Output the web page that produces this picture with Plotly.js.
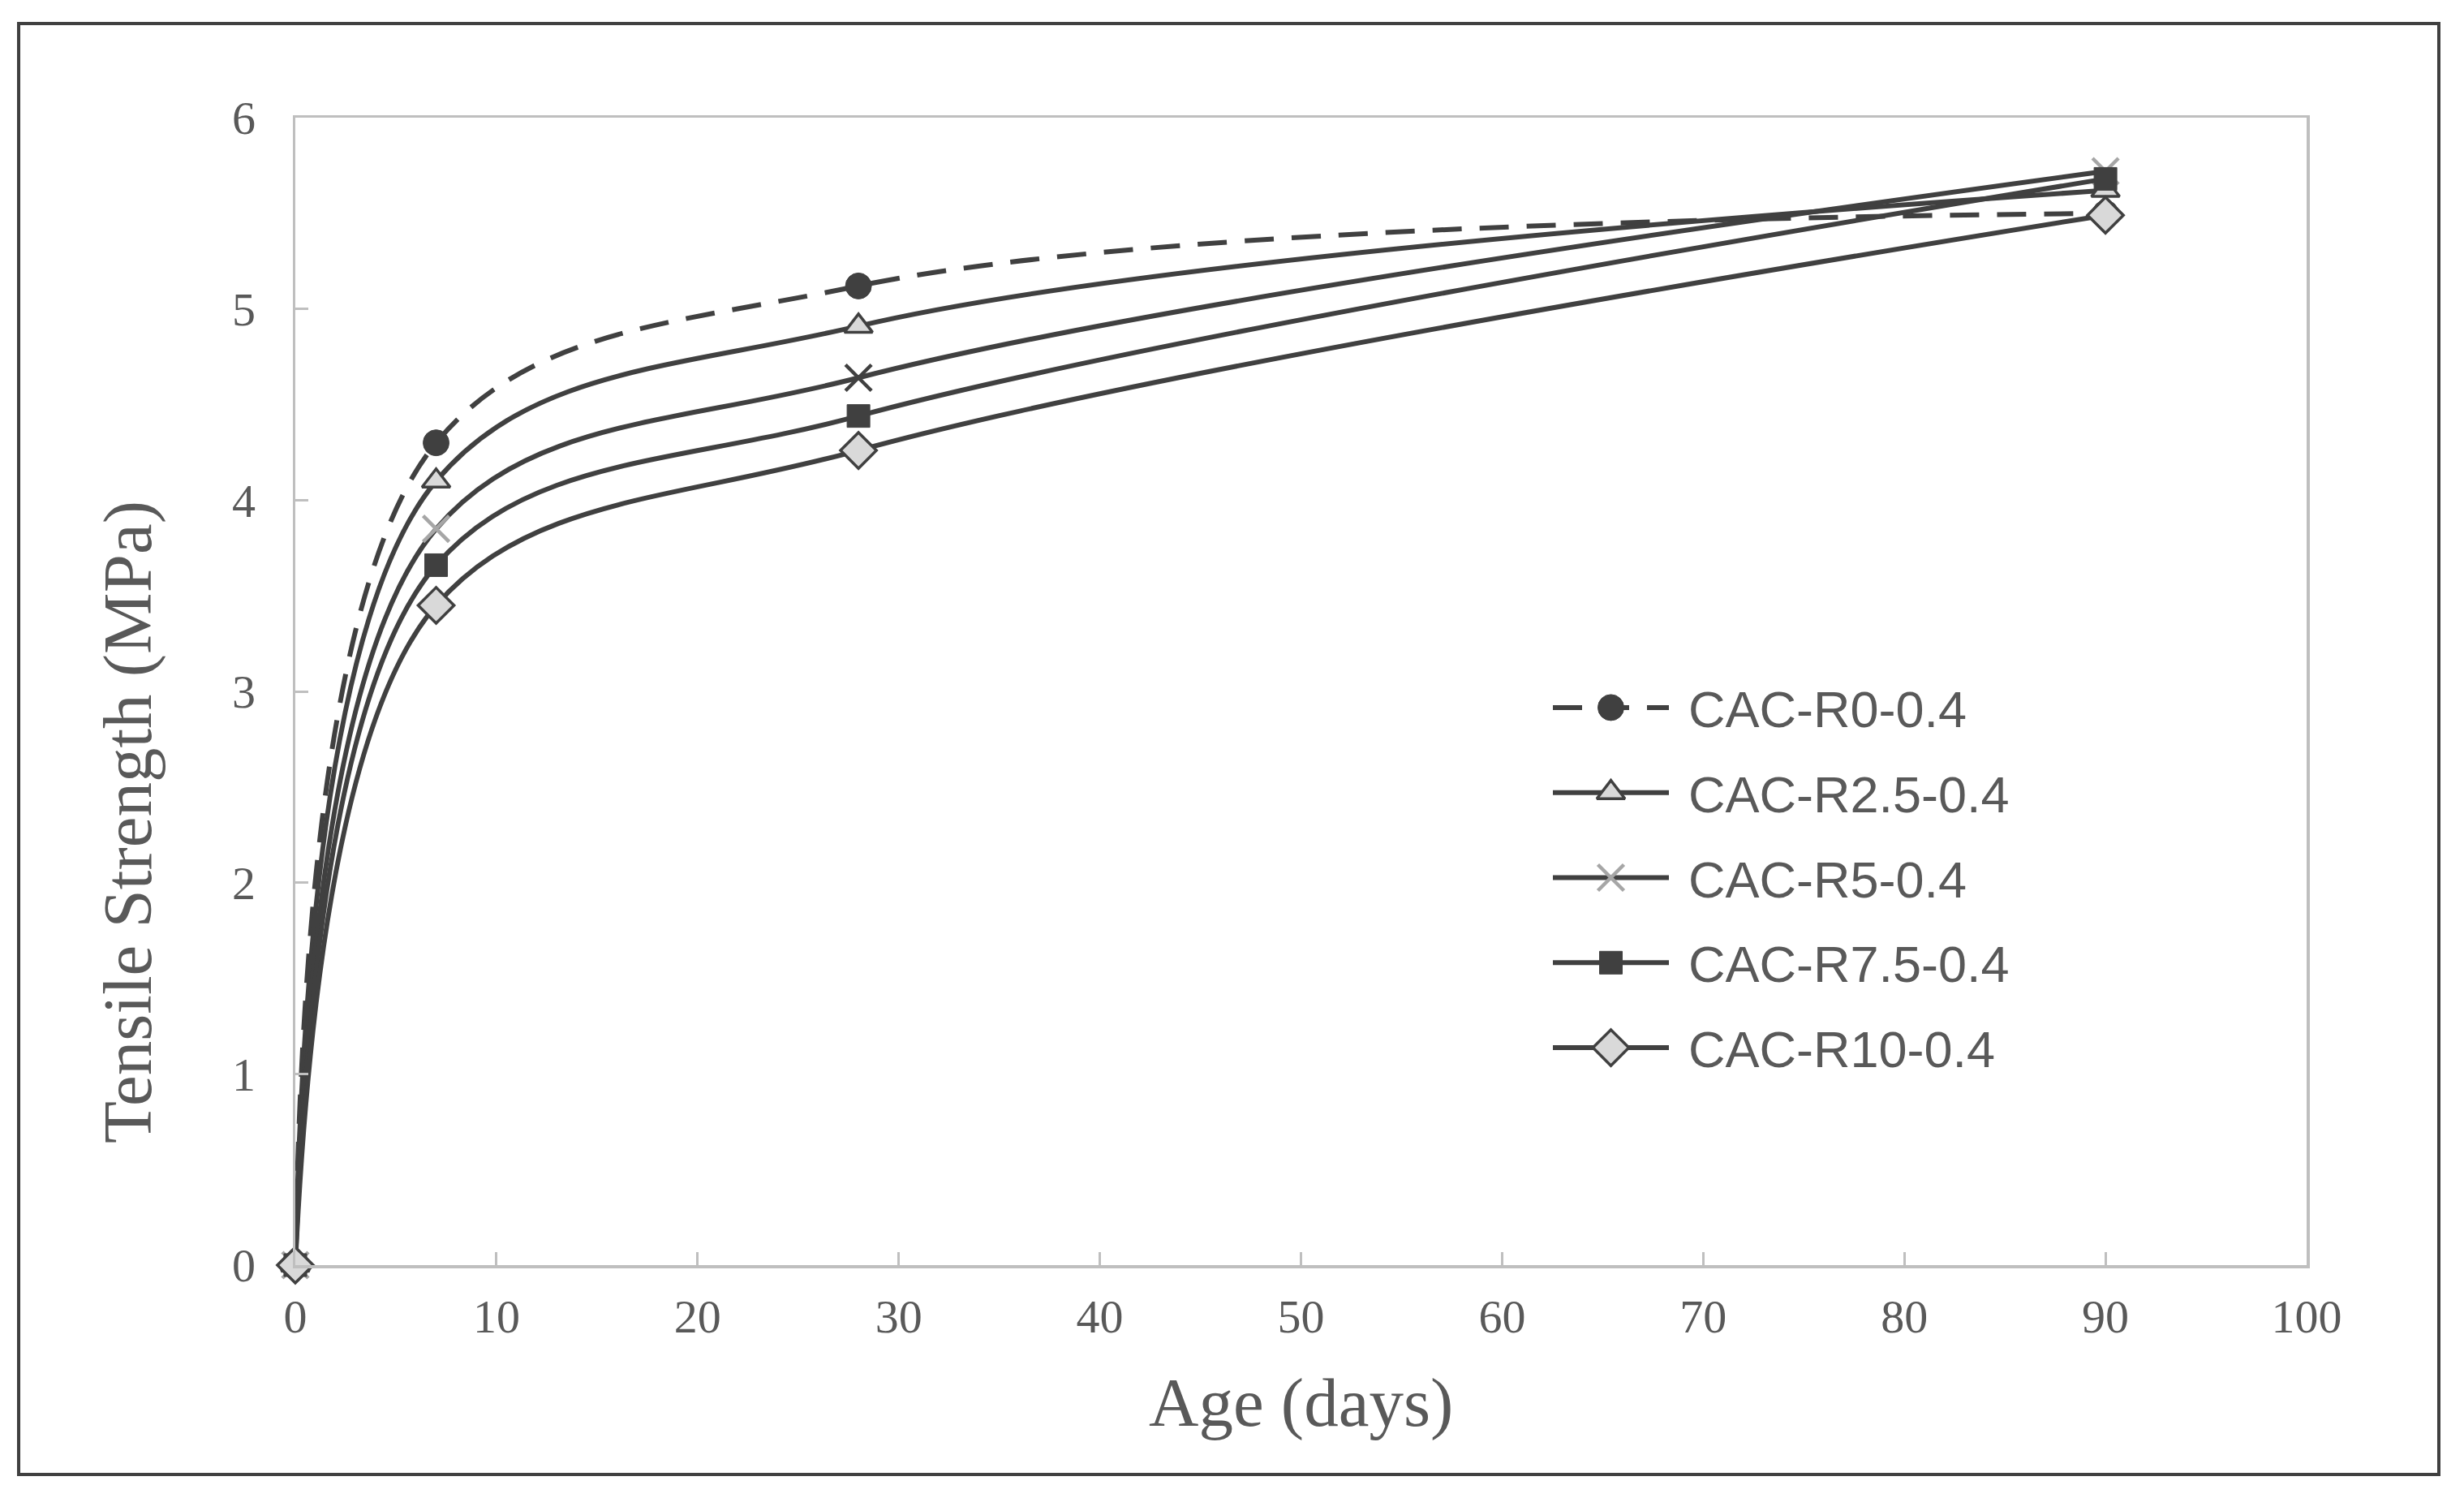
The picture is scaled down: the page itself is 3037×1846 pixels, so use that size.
<!DOCTYPE html>
<html>
<head>
<meta charset="utf-8">
<script src="https://cdn.plot.ly/plotly-3.0.1.min.js"></script>
<style>html,body{margin:0;padding:0;background:#fff;}#chart{width:3037px;height:1846px;}</style>
</head>
<body>
<div id="chart"></div>
<script>
// Data (age in days, tensile strength in MPa)
const ages = [0, 7, 28, 90];
const seriesNames = ['CAC-R0-0.4', 'CAC-R2.5-0.4', 'CAC-R5-0.4', 'CAC-R7.5-0.4', 'CAC-R10-0.4'];
const r0   = [0, 4.30, 5.12, 5.50];
const r2_5 = [0, 4.10, 4.91, 5.62];
const r5   = [0, 3.85, 4.64, 5.72];
const r7_5 = [0, 3.66, 4.44, 5.68];
const r10  = [0, 3.45, 4.26, 5.49];
const xTicks = [0, 10, 20, 30, 40, 50, 60, 70, 80, 90, 100];
const yTicks = [0, 1, 2, 3, 4, 5, 6];
const xTitle = 'Age (days)';
const yTitle = 'Tensile Strength (MPa)';

const dark = '#404040';
const light = '#d9d9d9';
const grayX = '#a6a6a6';
const lw = 6;
const values = [r0, r2_5, r5, r7_5, r10];
const styles = [
  {dash: '36px,22px', marker: {symbol: 'circle', size: 32, color: dark, line: {color: dark, width: 1}}},
  {dash: 'solid', marker: {symbol: 'triangle-up', size: 30, color: light, line: {color: dark, width: 3.5}}},
  {dash: 'solid', marker: {symbol: 'x-thin-open', size: 32, color: grayX, line: {color: grayX, width: 4.5}}},
  {dash: 'solid', marker: {symbol: 'square', size: 28, color: dark, line: {color: dark, width: 1}}},
  {dash: 'solid', marker: {symbol: 'diamond', size: 34, color: light, line: {color: dark, width: 3.5}}}
];
// in the original, the x marker at 28 days is drawn dark
const r5PointColors = [grayX, grayX, dark, grayX];

const dataTraces = values.map((v, i) => {
  const m = JSON.parse(JSON.stringify(styles[i].marker));
  if (i === 2) { m.color = r5PointColors; m.line.color = r5PointColors; }
  return {
    type: 'scatter', mode: 'lines+markers', name: seriesNames[i], showlegend: false,
    x: ages, y: v, cliponaxis: false,
    line: {color: dark, width: lw, dash: styles[i].dash, shape: 'spline', smoothing: 1},
    marker: m
  };
});

// custom legend drawn on a helper axis pair (row index -> position)
const legendLines = seriesNames.map((n, i) => ({
  type: 'scatter', mode: 'lines', showlegend: false, xaxis: 'x2', yaxis: 'y2', cliponaxis: false,
  x: [0, 1], y: [i, i], line: {color: dark, width: lw, dash: styles[i].dash}
}));
const legendMarkers = seriesNames.map((n, i) => ({
  type: 'scatter', mode: 'markers', showlegend: false, xaxis: 'x2', yaxis: 'y2', cliponaxis: false,
  x: [0.5], y: [i], marker: styles[i].marker
}));

const L = 364, R = 2843, T = 145, B = 1559, W = 3037, H = 1846;
const pw = R - L, ph = B - T;
const px = v => (v - L) / pw;
const py = v => (B - v) / ph;

const serif = 'Liberation Serif, Times New Roman, serif';
const sans = 'Liberation Sans, Arial, sans-serif';
const txtColor = '#595959';

const annotations = seriesNames.map((n, i) => ({
  xref: 'x2', yref: 'y2', x: 1, y: i, xanchor: 'left', yanchor: 'middle', xshift: 22, yshift: -2,
  text: n, showarrow: false, font: {family: sans, size: 63, color: txtColor}
}));
annotations.push({
  xref: 'paper', yref: 'paper', x: px(157), y: py(1013), xanchor: 'center', yanchor: 'middle',
  textangle: -90, text: yTitle, showarrow: false, font: {family: serif, size: 85, color: txtColor}
});
annotations.push({
  xref: 'paper', yref: 'paper', x: 0.5, y: py(1728), xanchor: 'center', yanchor: 'middle',
  text: xTitle, showarrow: false, font: {family: serif, size: 85, color: txtColor}
});

const layout = {
  width: W, height: H,
  margin: {l: L, r: W - R, t: T, b: H - B, pad: 0},
  paper_bgcolor: '#ffffff',
  plot_bgcolor: '#ffffff',
  showlegend: false,
  xaxis: {
    range: [0, 100], tickvals: xTicks, ticktext: xTicks.map(String),
    showgrid: false, zeroline: false,
    showline: true, linecolor: '#bfbfbf', linewidth: 3.5, mirror: true,
    ticks: 'inside', ticklen: 16, tickwidth: 3, tickcolor: '#bfbfbf',
    ticklabelstandoff: 10,
    tickfont: {family: serif, size: 58, color: txtColor}
  },
  yaxis: {
    range: [0, 6], tickvals: yTicks, ticktext: yTicks.map(String),
    showgrid: false, zeroline: false,
    showline: true, linecolor: '#bfbfbf', linewidth: 3.5, mirror: true,
    ticks: 'inside', ticklen: 16, tickwidth: 3, tickcolor: '#bfbfbf',
    ticklabelstandoff: 34,
    tickfont: {family: serif, size: 58, color: txtColor}
  },
  xaxis2: {domain: [px(1914), px(2057)], range: [0, 1], visible: false, anchor: 'y2', fixedrange: true},
  yaxis2: {domain: [py(1343.5), py(819.5)], range: [seriesNames.length - 0.5, -0.5], visible: false, anchor: 'x2', fixedrange: true},
  annotations: annotations,
  shapes: [{
    type: 'rect', xref: 'paper', yref: 'paper',
    x0: px(23), x1: px(3006), y0: py(1817), y1: py(29),
    line: {color: '#404040', width: 4}, fillcolor: 'rgba(0,0,0,0)', layer: 'below'
  }]
};

Plotly.newPlot('chart', dataTraces.concat(legendLines, legendMarkers), layout, {staticPlot: true, displayModeBar: false});
</script>
</body>
</html>
